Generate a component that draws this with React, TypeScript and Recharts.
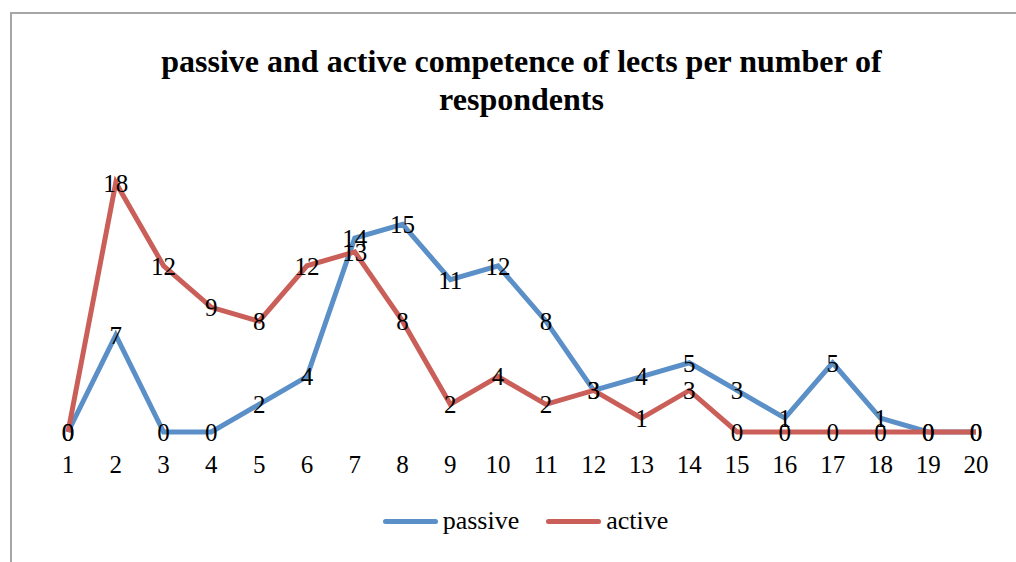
import React from 'react';
import { LineChart, Line, XAxis, YAxis, LabelList, Legend } from 'recharts';

const categories = ['1', '2', '3', '4', '5', '6', '7', '8', '9', '10', '11', '12', '13', '14', '15', '16', '17', '18', '19', '20'];
const passive = [0, 7, 0, 0, 2, 4, 14, 15, 11, 12, 8, 3, 4, 5, 3, 1, 5, 1, 0, 0];
const active = [0, 18, 12, 9, 8, 12, 13, 8, 2, 4, 2, 3, 1, 3, 0, 0, 0, 0, 0, 0];
const seriesOrder = ['passive', 'active'];

const BLUE = '#5B8FC8';
const RED = '#CA5F5A';
const FONT = '"Times New Roman", "Liberation Serif", serif';

const data = categories.map((c, i) => ({ cat: c, passive: passive[i], active: active[i] }));

const renderLegend = (props: any) => {
  const items = seriesOrder
    .map(name => props.payload.find((p: any) => p.value === name))
    .filter(Boolean);
  return (
    <div style={{ display: 'flex', justifyContent: 'center', fontFamily: FONT, fontSize: 26, color: '#000' }}>
      {items.map((p: any, i: number) => (
        <div key={p.value} style={{ display: 'flex', alignItems: 'center', marginLeft: i ? 27 : 0 }}>
          <span style={{ display: 'inline-block', width: 55, height: 5, borderRadius: 3, background: p.color, marginRight: 5 }} />
          <span>{p.value}</span>
        </div>
      ))}
    </div>
  );
};

export default function App() {
  return (
    <div style={{ position: 'absolute', left: 0, top: 0, width: 1016, height: 562, overflow: 'hidden', background: '#fff' }}>
      <div style={{ position: 'absolute', left: 10, top: 12, width: 1100, height: 700, border: '2px solid #A6A6A6' }} />
      <div
        style={{
          position: 'absolute', left: 0, top: 42, width: 1043, textAlign: 'center',
          fontFamily: FONT, fontWeight: 'bold', fontSize: 32, lineHeight: '38px', color: '#000',
        }}
      >
        passive and active competence of lects per number of
        <br />
        respondents
      </div>
      <div style={{ position: 'absolute', left: 0, top: 0 }}>
        <LineChart width={1016} height={562} data={data} margin={{ top: 155, right: 40, bottom: 60, left: 68 }}>
          <XAxis
            dataKey="cat"
            axisLine={false}
            tickLine={false}
            tickMargin={17}
            height={40}
            interval={0}
            tick={{ fill: '#000', fontSize: 25, fontFamily: FONT }}
          />
          <YAxis hide domain={[0, 20]} />
          <Legend
            content={renderLegend}
            wrapperStyle={{ position: 'absolute', left: 0, width: 1051, top: 506 }}
          />
          <Line dataKey="passive" name="passive" stroke={BLUE} strokeWidth={5} dot={false} isAnimationActive={false}>
            <LabelList dataKey="passive" position="center" fill="#000" fontSize={25} fontFamily={FONT} />
          </Line>
          <Line dataKey="active" name="active" stroke={RED} strokeWidth={5} dot={false} isAnimationActive={false}>
            <LabelList dataKey="active" position="center" fill="#000" fontSize={25} fontFamily={FONT} />
          </Line>
        </LineChart>
      </div>
    </div>
  );
}
